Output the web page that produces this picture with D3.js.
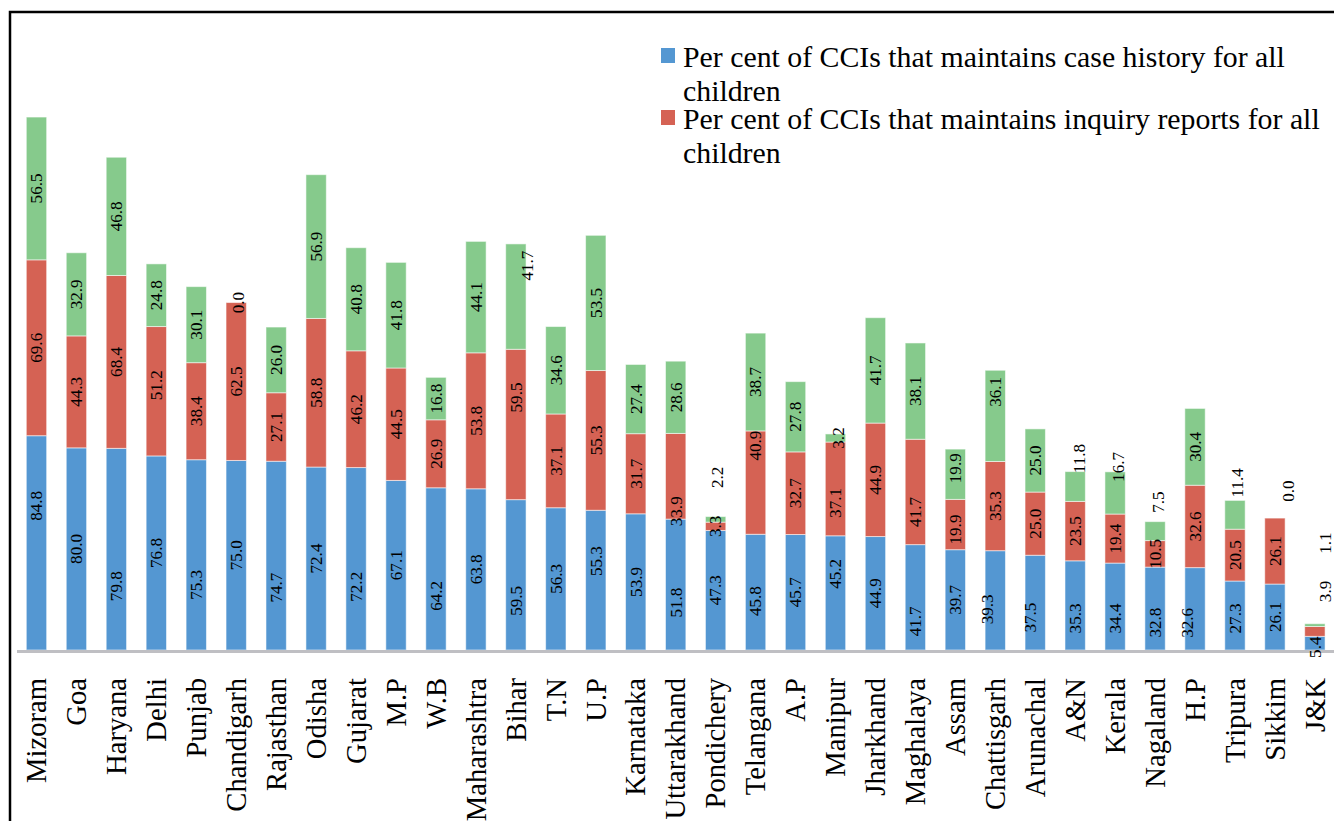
<!DOCTYPE html>
<html>
<head>
<meta charset="utf-8">
<script src="https://cdn.jsdelivr.net/npm/d3@7"></script>
<style>
  html, body { margin: 0; padding: 0; background: #fff; }
  svg { display: block; }
</style>
</head>
<body>
<svg id="chart" width="1334" height="821"></svg>
<script>
// ---- data ----
const categories = ["Mizoram","Goa","Haryana","Delhi","Punjab","Chandigarh","Rajasthan","Odisha","Gujarat","M.P","W.B","Maharashtra","Bihar","T.N","U.P","Karnataka","Uttarakhand","Pondichery","Telangana","A.P","Manipur","Jharkhand","Maghalaya","Assam","Chattisgarh","Arunachal","A&N","Kerala","Nagaland","H.P","Tripura","Sikkim","J&K"];
const caseHistory = [84.8,80.0,79.8,76.8,75.3,75.0,74.7,72.4,72.2,67.1,64.2,63.8,59.5,56.3,55.3,53.9,51.8,47.3,45.8,45.7,45.2,44.9,41.7,39.7,39.3,37.5,35.3,34.4,32.8,32.6,27.3,26.1,5.4];
const inquiryReports = [69.6,44.3,68.4,51.2,38.4,62.5,27.1,58.8,46.2,44.5,26.9,53.8,59.5,37.1,55.3,31.7,33.9,3.3,40.9,32.7,37.1,44.9,41.7,19.9,35.3,25.0,23.5,19.4,10.5,32.6,20.5,26.1,3.9];
const thirdSeries = [56.5,32.9,46.8,24.8,30.1,0.0,26.0,56.9,40.8,41.8,16.8,44.1,41.7,34.6,53.5,27.4,28.6,2.2,38.7,27.8,3.2,41.7,38.1,19.9,36.1,25.0,11.8,16.7,7.5,30.4,11.4,0.0,1.1];
const legendLines = [["Per cent of CCIs that maintains case history for all", "children"],
                     ["Per cent of CCIs that maintains inquiry reports for all", "children"]];

// ---- styling / layout (kept separate from data) ----
const colors = ["#5497d2", "#d56254", "#86ca8c"];
const FAMILY = "'Liberation Serif', Tinos, 'Times New Roman', Times, 'Noto Serif', 'DejaVu Serif', serif";
// manual label nudges [dx, dy] in px, as in the original figure
const labelNudges = {
  "Mizoram|0":[0,-37], "Haryana|0":[0,37], "Punjab|0":[0,30], "Rajasthan|0":[0,32],
  "Gujarat|0":[0,28], "W.B|0":[0,27], "Bihar|0":[0,26], "U.P|0":[0,-19],
  "Uttarakhand|0":[0,18], "Telangana|0":[0,9], "Manipur|0":[0,-19], "Maghalaya|0":[0,24],
  "Chattisgarh|0":[-8,9], "Arunachal|0":[-5,15], "A&N|0":[0,13], "Kerala|0":[0,12],
  "Nagaland|0":[0,14], "H.P|0":[-8,14], "Tripura|0":[0,3], "J&K|0":[0,4],
  "Delhi|1":[0,-6], "Bihar|1":[0,-27], "Uttarakhand|1":[0,35], "Telangana|1":[0,-37],
  "Manipur|1":[0,14], "Maghalaya|1":[0,20], "Assam|1":[0,5], "J&K|1":[10,-40],
  "Bihar|2":[11,-31], "Pondichery|2":[2,-42], "Manipur|2":[3,0], "Assam|2":[0,-6],
  "Chattisgarh|2":[0,-24], "A&N|2":[4,-28], "Kerala|2":[3,-26], "Nagaland|2":[3,-29],
  "Tripura|2":[2,-32], "Sikkim|2":[13,-27], "J&K|2":[10,-82], "Chandigarh|2":[2,0]
};

// pick a font size so that a sample string has the measured length of the original
const ctx = document.createElement("canvas").getContext("2d");
function fitSize(sample, targetLen) {
  ctx.font = "100px " + FAMILY;
  const w = ctx.measureText(sample).width;
  return (100 * targetLen / w).toFixed(2) + "px";
}
const legendSize = fitSize(legendLines[0][0], 602);
const catSize = fitSize("Mizoram", 105);
const valSize = fitSize("84.8", 30);

const svg = d3.select("#chart").style("font-family", FAMILY);

// frame (partially cropped in the original)
svg.append("rect").attr("x", 10).attr("y", 12).attr("width", 1400).attr("height", 900)
  .attr("fill", "none").attr("stroke", "#000").attr("stroke-width", 2.5);

const baseY = 650;
const x = d3.scaleBand().domain(categories).range([16.5, 16.5 + 33 * 39.95])
  .paddingInner(0.49).paddingOuter(0.245);
const y = d3.scaleLinear().domain([0, 100]).range([baseY, baseY - 252.7]);

const rows = categories.map((c, i) => ({cat: c, s0: caseHistory[i], s1: inquiryReports[i], s2: thirdSeries[i]}));
const stack = d3.stack().keys(["s0", "s1", "s2"])(rows);

const layers = svg.append("g").selectAll("g").data(stack).join("g")
  .attr("fill", (d, i) => colors[i]);

layers.selectAll("rect").data(d => d).join("rect")
  .attr("x", d => x(d.data.cat))
  .attr("width", x.bandwidth())
  .attr("y", d => y(d[1]))
  .attr("height", d => y(d[0]) - y(d[1]))
  .attr("stroke", "#ffffff").attr("stroke-opacity", 0.55).attr("stroke-width", 1);

// axis line
svg.append("line").attr("x1", 17).attr("x2", 1334).attr("y1", baseY + 1.5).attr("y2", baseY + 1.5)
  .attr("stroke", "#bfbfc3").attr("stroke-width", 3);

// data labels
const seriesVals = [caseHistory, inquiryReports, thirdSeries];
const labelG = svg.append("g");
stack.forEach((layer, si) => {
  layer.forEach((d, i) => {
    const nd = labelNudges[d.data.cat + "|" + si] || [0, 0];
    const cx = x(d.data.cat) + x.bandwidth() / 2 + nd[0];
    const cy = (y(d[0]) + y(d[1])) / 2 + nd[1];
    labelG.append("text")
      .attr("transform", `translate(${cx},${cy}) rotate(-90)`)
      .attr("text-anchor", "middle")
      .attr("dy", "0.34em")
      .style("font-size", valSize)
      .attr("fill", "#000")
      .text(seriesVals[si][i].toFixed(1));
  });
});

// category axis labels
const xAxis = d3.axisBottom(x).tickSize(0).tickPadding(0);
const axG = svg.append("g").attr("transform", `translate(0,${baseY})`).call(xAxis)
  .attr("font-family", null).attr("font-size", null);
axG.select(".domain").remove();
axG.selectAll(".tick text")
  .attr("transform", "translate(0,28) rotate(-90)")
  .attr("x", 0).attr("y", 0).attr("dy", "0.34em")
  .attr("text-anchor", "end")
  .style("font-family", FAMILY)
  .style("font-size", catSize)
  .attr("fill", "#000");

// legend
const legend = svg.append("g");
const legendTop = [67, 129];
legendLines.forEach((lines, i) => {
  legend.append("rect").attr("x", 661).attr("y", legendTop[i] - 19).attr("width", 14).attr("height", 15)
    .attr("fill", colors[i]);
  const t = legend.append("text").attr("x", 683).attr("y", legendTop[i])
    .style("font-size", legendSize).attr("fill", "#000");
  lines.forEach((ln, j) => {
    t.append("tspan").attr("x", 683).attr("y", legendTop[i] + j * 34).text(ln);
  });
});
</script>
</body>
</html>
